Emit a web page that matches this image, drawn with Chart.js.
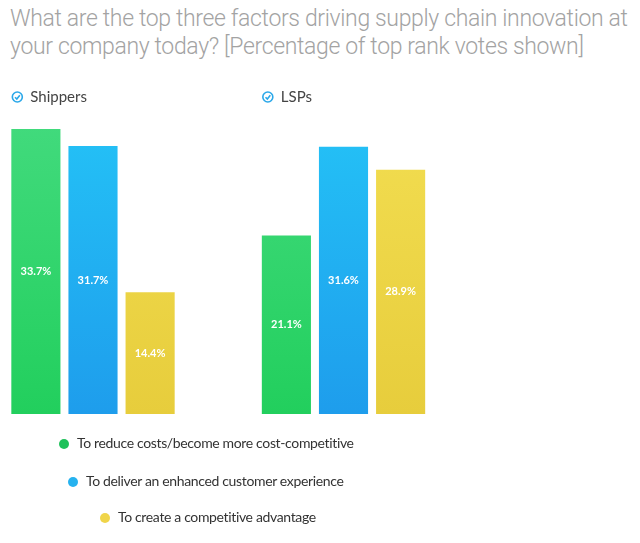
<!DOCTYPE html>
<html lang="en">
<head>
<meta charset="UTF-8">
<title>Supply chain innovation drivers</title>
<script src="https://cdn.jsdelivr.net/npm/chart.js"></script>
<style>
    body {
        margin: 0;
        background: #fff;
        width: 640px;
        height: 543px;
        overflow: hidden;
        position: relative;
        font-family: Lato, "Open Sans", sans-serif;
    }
    #title {
        position: absolute;
        left: 10px;
        top: 5px;
        margin: 0;
        font-family: Roboto, sans-serif;
        font-weight: 300;
        font-size: 23px;
        line-height: 28px;
        letter-spacing: -0.35px;
        color: #a3a3a3;
        white-space: nowrap;
    }
    #chart {
        position: absolute;
        left: 0;
        top: 0;
    }
    .legend-item {
        position: absolute;
        font-size: 14px;
        letter-spacing: -0.35px;
        color: #333;
        white-space: nowrap;
        line-height: 18px;
    }
    .legend-item .dot {
        display: inline-block;
        width: 10px;
        height: 10px;
        border-radius: 50%;
        margin-right: 8px;
        vertical-align: -1px;
    }
</style>
</head>
<body>
    <h1 id="title">What are the top three factors driving supply chain innovation at<br>your company today? [Percentage of top rank votes shown]</h1>
    <canvas id="chart" width="640" height="543"></canvas>
    <div id="legend"></div>

<script>
    const groups = ['Shippers', 'LSPs'];
    const factors = [
        'To reduce costs/become more cost-competitive',
        'To deliver an enhanced customer experience',
        'To create a competitive advantage'
    ];
    const reduceCosts = [33.7, 21.1];
    const customerExperience = [31.7, 31.6];
    const competitiveAdvantage = [14.4, 28.9];
    const seriesValues = [reduceCosts, customerExperience, competitiveAdvantage];

    // colours: [top, bottom] of each bar gradient, plus legend dot
    const gradients = [['#41da7c', '#22cf5d'], ['#24c1f6', '#1e9dec'], ['#f2dd50', '#e7cd3c']];
    const dotColors = ['#1fc15a', '#26b2ef', '#f0d54a'];
    // legend placement (left edge of dot, vertical centre)
    const legendPos = [[59, 443], [68, 481], [100, 517]];

    function barGradient(idx) {
        return function (context) {
            const area = context.chart.chartArea;
            if (!area) return gradients[idx][1];
            const g = context.chart.ctx.createLinearGradient(0, area.top, 0, area.bottom);
            g.addColorStop(0, gradients[idx][0]);
            g.addColorStop(1, gradients[idx][1]);
            return g;
        };
    }

    // group headers with a small check icon, left aligned to the first bar
    const groupHeaders = {
        id: 'groupHeaders',
        afterDatasetsDraw(chart) {
            const ctx = chart.ctx;
            const meta = chart.getDatasetMeta(0);
            ctx.save();
            meta.data.forEach((bar, i) => {
                const left = bar.x - bar.width / 2;
                const cy = 97;
                const cx = left + 6;
                ctx.strokeStyle = '#2ba8e9';
                ctx.lineWidth = 1.6;
                ctx.beginPath();
                ctx.arc(cx, cy, 5, 0, Math.PI * 2);
                ctx.stroke();
                ctx.beginPath();
                ctx.moveTo(cx - 2.3, cy + 0.2);
                ctx.lineTo(cx - 0.5, cy + 2);
                ctx.lineTo(cx + 2.5, cy - 1.8);
                ctx.stroke();
                ctx.fillStyle = '#444';
                ctx.font = '15px Lato, sans-serif';
                ctx.textBaseline = 'middle';
                ctx.textAlign = 'left';
                ctx.fillText(groups[i], left + 19, cy);
            });
            ctx.restore();
        }
    };

    // white value labels inside the bars
    const valueLabels = {
        id: 'valueLabels',
        afterDatasetsDraw(chart) {
            const ctx = chart.ctx;
            ctx.save();
            ctx.fillStyle = '#fff';
            ctx.font = 'bold 11px Lato, sans-serif';
            ctx.textAlign = 'center';
            ctx.textBaseline = 'middle';
            chart.data.datasets.forEach((ds, d) => {
                chart.getDatasetMeta(d).data.forEach((bar, i) => {
                    ctx.fillText(ds.data[i].toFixed(1) + '%', bar.x, (bar.y + bar.base) / 2);
                });
            });
            ctx.restore();
        }
    };

    new Chart(document.getElementById('chart'), {
        type: 'bar',
        data: {
            labels: groups,
            datasets: factors.map((name, i) => ({
                label: name,
                data: seriesValues[i],
                backgroundColor: barGradient(i),
                borderWidth: 0,
                categoryPercentage: 0.684,
                barPercentage: 0.86,
                clip: false
            }))
        },
        options: {
            responsive: false,
            animation: false,
            layout: { padding: { left: 93, right: 296.5, top: 126.5, bottom: 129 } },
            plugins: {
                legend: { display: false },
                tooltip: { enabled: false }
            },
            scales: {
                x: { display: false, offset: false },
                y: { display: false, min: 0, max: 34 }
            }
        },
        plugins: [groupHeaders, valueLabels]
    });

    const legend = document.getElementById('legend');
    factors.forEach((name, i) => {
        const item = document.createElement('div');
        item.className = 'legend-item';
        item.style.left = legendPos[i][0] + 'px';
        item.style.top = (legendPos[i][1] - 9) + 'px';
        item.innerHTML = '<span class="dot" style="background:' + dotColors[i] + '"></span>' + name;
        legend.appendChild(item);
    });
</script>
</body>
</html>
